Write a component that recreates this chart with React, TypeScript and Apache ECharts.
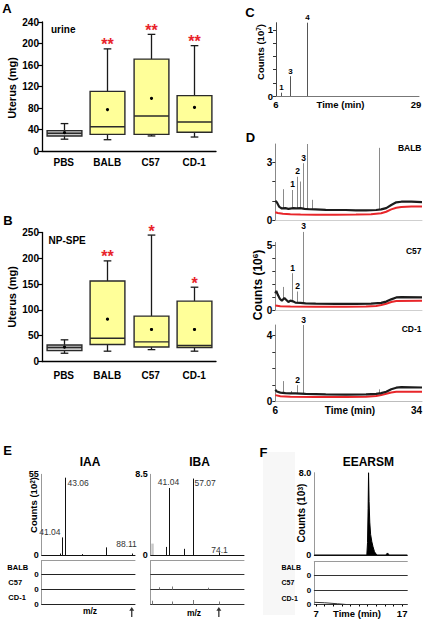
import React, { useEffect, useRef } from 'react';
import * as echarts from 'echarts';

const FONT = "'Liberation Sans', Arial, Helvetica, sans-serif";

// ---------- A / B : box plots ----------
const boxCategories = ['PBS', 'BALB', 'C57', 'CD-1'];
const urineMin = [22, 21, 28, 26];
const urineQ1 = [28, 31, 31, 35];
const urineMedian = [33, 45, 65, 54];
const urineQ3 = [38, 111, 171, 103];
const urineMax = [51, 190, 217, 196];
const urineMean = [34, 77, 98, 81];
const urineStars = ['', '**', '**', '**'];

const npMin = [16, 20, 23, 20];
const npQ1 = [21, 33, 28, 27];
const npMedian = [27, 45, 38, 31];
const npQ3 = [32, 156, 88, 117];
const npMax = [42, 195, 245, 144];
const npMean = [28, 82, 62, 62];
const npStars = ['', '**', '*', '*'];

// ---------- C : standard chromatogram ----------
const cPeakTime = [6.77, 8.35, 11.14];
const cPeakCounts = [0.05, 0.3, 1.11];
const cPeakLabels = ['1', '3', '4'];

// ---------- D : sample chromatograms (10^6 counts) ----------
const dBalbBlack: [number, number][] = [[6, 1.0], [6.3, 0.92], [6.8, 0.68], [7.3, 0.6], [8, 0.62], [8.6, 0.58], [9.6, 0.62], [10.2, 0.6], [11, 0.62], [11.8, 0.58], [12.8, 0.56], [14, 0.55], [16, 0.53], [18, 0.52], [20, 0.52], [22, 0.5], [24, 0.5], [26, 0.52], [27, 0.55], [28, 0.62], [29, 0.78], [30, 0.92], [31, 0.95], [33, 0.95], [35.1, 0.93]];
const dBalbRed: [number, number][] = [[6, 0.4], [6.5, 0.36], [7.5, 0.32], [9, 0.3], [11, 0.28], [14, 0.27], [18, 0.27], [22, 0.28], [25, 0.3], [27, 0.35], [28, 0.43], [29, 0.55], [30, 0.64], [31, 0.68], [33, 0.7], [35.1, 0.7]];
const dBalbPeakTime = [7.6, 9.25, 10.4, 10.9, 11.4, 12.35, 13.2, 26.6];
const dBalbPeakCounts = [1.6, 1.56, 2.25, 2.0, 2.95, 3.95, 1.05, 3.75];
const dBalbPeakLabels = ['', '1', '2', '', '3', '', '', ''];

const dC57Black: [number, number][] = [[6, 1.3], [6.2, 1.5], [6.5, 1.2], [6.9, 0.9], [7.3, 0.75], [7.8, 0.95], [8.2, 0.8], [8.6, 0.65], [9.0, 0.75], [9.5, 0.7], [10, 0.6], [11, 0.58], [12, 0.55], [14, 0.52], [18, 0.5], [22, 0.5], [25, 0.52], [27, 0.58], [28, 0.68], [29, 0.85], [30, 1.0], [31, 1.02], [35.1, 1.0]];
const dC57Red: [number, number][] = [[6, 0.38], [7, 0.32], [9, 0.3], [14, 0.28], [20, 0.28], [24, 0.3], [26, 0.35], [27, 0.42], [28, 0.52], [29, 0.65], [30, 0.72], [35.1, 0.75]];
const dC57PeakTime = [7.6, 9.25, 10.4, 11.4];
const dC57PeakCounts = [1.8, 2.85, 1.45, 6.0];
const dC57PeakLabels = ['', '1', '2', '3'];

const dCd1Black: [number, number][] = [[6, 0.72], [6.3, 0.62], [7, 0.55], [8, 0.52], [9, 0.5], [10, 0.5], [12, 0.47], [16, 0.44], [20, 0.43], [24, 0.44], [26, 0.47], [27, 0.52], [28, 0.6], [29, 0.75], [30, 0.85], [31, 0.88], [35.1, 0.86]];
const dCd1Red: [number, number][] = [[6, 0.4], [7, 0.33], [9, 0.3], [14, 0.28], [20, 0.28], [24, 0.3], [26, 0.34], [27, 0.4], [28, 0.48], [29, 0.56], [30, 0.6], [35.1, 0.6]];
const dCd1PeakTime = [7.6, 9.2, 10.4, 11.4, 26.6];
const dCd1PeakCounts = [1.25, 0.65, 1.0, 4.65, 0.75];
const dCd1PeakLabels = ['', '', '2', '3', ''];

// ---------- E : mass spectra ----------
const iaaMz = [39.9, 41.04, 43.06, 54.7, 70.8, 88.11];
const iaaCounts = [1.0, 12, 52.7, 0.6, 5.2, 1.0];
const iaaLabels = ['', '41.04', '43.06', '', '', '88.11'];
const iaaArrowMz = [88.11];

const ibaBackgroundMz = [29.3];
const ibaBackgroundCounts = [1.2];
const ibaMz = [38.8, 41.04, 51, 57.07, 74.1];
const ibaCounts = [0.85, 7.06, 0.65, 8.05, 0.25];
const ibaLabels = ['', '41.04', '', '57.07', '74.1'];
const ibaArrowMz = [74.1];
const ibaC57NoiseMz = [34, 43, 67];
const ibaC57Noise = [0.15, 0.2, 0.12];
const ibaCd1NoiseMz = [29.3, 43.1, 57.1, 74.1];
const ibaCd1Noise = [0.25, 0.2, 0.3, 0.2];

// ---------- F : EEARSM chromatogram (10^3 counts) ----------
const fTime = [6.8, 12.9, 12.98, 13.05, 13.1, 13.16, 13.24, 13.34, 13.48, 13.62, 13.78, 13.95, 14.15, 15.1, 15.3, 15.5, 17.6];
const fCounts = [0, 0, 1.2, 4.5, 8.0, 5.2, 3.2, 2.0, 1.3, 0.8, 0.35, 0.1, 0, 0, 0.2, 0, 0];
const fCd1Time = [6.8, 8, 9.5, 10.5, 17.6];
const fCd1Counts = [0.15, 0.12, 0.05, 0, 0];

// ---------- label placements (style, not data) ----------
type Place = [string, number, number];
const iaaLabelPlace: Place[] = [['top', 0, -1], ['left', -2, -1], ['right', 2, 1], ['top', 0, -1], ['top', 0, -1], ['top', -6, -5]];
const ibaLabelPlace: Place[] = [['top', 0, -1], ['top', -1, -1], ['top', 0, -1], ['right', 1, 0], ['top', 0, 2]];

const font = (size: number, weight = 'bold') => `${weight} ${size}px ${FONT}`;

function interp(trace: [number, number][], t: number) {
  for (let i = 1; i < trace.length; i++) {
    if (t <= trace[i][0]) {
      const [t0, v0] = trace[i - 1];
      const [t1, v1] = trace[i];
      return v0 + ((t - t0) / (t1 - t0)) * (v1 - v0);
    }
  }
  return trace[trace.length - 1][1];
}

function grid(left: number, top: number, width: number, height: number) {
  return { left, top, width, height, containLabel: false, outerBoundsMode: 'none' };
}

function boxSeries(gi: number, mins: number[], q1s: number[], meds: number[], q3s: number[], maxs: number[], means: number[], stars: string[]) {
  return {
    type: 'custom',
    xAxisIndex: gi,
    yAxisIndex: gi,
    silent: true,
    data: boxCategories.map((_, i) => [i, mins[i], q1s[i], meds[i], q3s[i], maxs[i], means[i]]),
    encode: { x: 0, y: [1, 2, 3, 4, 5, 6] },
    renderItem: (params: any, api: any) => {
      const i = params.dataIndex;
      const c = (v: number) => api.coord([i, v]);
      const pMin = c(api.value(1));
      const pQ1 = c(api.value(2));
      const pMed = c(api.value(3));
      const pQ3 = c(api.value(4));
      const pMax = c(api.value(5));
      const pMean = c(api.value(6));
      const band = api.size([1, 0])[0];
      const w = band * 0.8;
      const cx = Math.round(pMin[0]) + 0.5;
      const cap = w * 0.11;
      const ls = { stroke: '#1a1a1a', lineWidth: 1.3 };
      const children: any[] = [
        { type: 'line', shape: { x1: cx, y1: pMax[1], x2: cx, y2: pQ3[1] }, style: ls },
        { type: 'line', shape: { x1: cx, y1: pQ1[1], x2: cx, y2: pMin[1] }, style: ls },
        { type: 'line', shape: { x1: cx - cap, y1: pMax[1], x2: cx + cap, y2: pMax[1] }, style: ls },
        { type: 'line', shape: { x1: cx - cap, y1: pMin[1], x2: cx + cap, y2: pMin[1] }, style: ls },
        {
          type: 'rect',
          shape: { x: cx - w / 2, y: pQ3[1], width: w, height: pQ1[1] - pQ3[1] },
          style: { fill: i === 0 ? '#c6c6c6' : '#ffff99', stroke: '#2a2a2a', lineWidth: 1.4 },
        },
        { type: 'line', shape: { x1: cx - w / 2, y1: pMed[1], x2: cx + w / 2, y2: pMed[1] }, style: { stroke: '#2a2a2a', lineWidth: 1.4 } },
        { type: 'circle', shape: { cx, cy: pMean[1], r: 1.6 }, style: { fill: '#000' } },
      ];
      if (stars[i]) {
        children.push({
          type: 'text',
          x: cx,
          y: pMax[1] - 4,
          style: { text: stars[i], font: font(16), fill: '#e8232a', align: 'center', verticalAlign: 'middle', textAlign: 'center', textVerticalAlign: 'middle' },
        });
      }
      return { type: 'group', children };
    },
  };
}

function spikeSeries(gi: number, xs: number[], tops: number[], bases: number[], labels: string[], places: Place[] | null, color: string, width: number, labelFont: string, labelColor: string, z = 2) {
  return {
    type: 'custom',
    xAxisIndex: gi,
    yAxisIndex: gi,
    silent: true,
    z,
    data: xs.map((x, i) => [x, bases[i], tops[i]]),
    encode: { x: 0, y: [1, 2] },
    renderItem: (params: any, api: any) => {
      const i = params.dataIndex;
      const p0 = api.coord([api.value(0), api.value(1)]);
      const p1 = api.coord([api.value(0), api.value(2)]);
      const x = Math.round(p0[0]) + 0.5;
      const children: any[] = [{ type: 'line', shape: { x1: x, y1: p0[1], x2: x, y2: p1[1] }, style: { stroke: color, lineWidth: width } }];
      const lab = labels[i];
      if (lab) {
        const pl: Place = places ? places[i] : ['top', 0, -1];
        let align = 'center';
        let vAlign = 'bottom';
        if (pl[0] === 'left') { align = 'right'; vAlign = 'bottom'; }
        if (pl[0] === 'right') { align = 'left'; vAlign = 'top'; }
        children.push({
          type: 'text',
          x: x + pl[1],
          y: p1[1] + pl[2],
          style: { text: lab, font: labelFont, fill: labelColor, align, verticalAlign: vAlign, textAlign: align, textVerticalAlign: vAlign },
        });
      }
      return { type: 'group', children };
    },
  };
}

function lineSeries(gi: number, data: [number, number][], color: string, width: number, z = 2, area = false) {
  const s: any = {
    type: 'line',
    xAxisIndex: gi,
    yAxisIndex: gi,
    data,
    showSymbol: false,
    silent: true,
    z,
    lineStyle: { color, width },
  };
  if (area) s.areaStyle = { color, opacity: 1 };
  return s;
}

function arrowSeries(gi: number, xs: number[]) {
  return {
    type: 'scatter',
    xAxisIndex: gi,
    yAxisIndex: gi,
    clip: false,
    silent: true,
    data: xs.map((x) => [x, 0]),
    symbol: 'path://M5,0 L10,5.5 L6.3,5.5 L6.3,15 L3.7,15 L3.7,5.5 L0,5.5 Z',
    symbolSize: [5, 10],
    symbolOffset: [0, 7.5],
    itemStyle: { color: '#000' },
  };
}

const lbl = (size: number, extra: any = {}) => ({ fontFamily: FONT, fontWeight: 'bold', fontSize: size, color: '#000', ...extra });

function catX(gi: number, margin: number) {
  return {
    type: 'category', gridIndex: gi, data: boxCategories,
    axisLine: { lineStyle: { color: '#000', width: 1.3 } },
    axisTick: { show: false },
    axisLabel: lbl(10, { margin }),
  };
}

function valY(gi: number, max: number, interval: number) {
  return {
    type: 'value', gridIndex: gi, min: 0, max, interval,
    axisLine: { show: true, lineStyle: { color: '#000', width: 1.3 } },
    axisTick: { show: true, inside: false, length: 4, lineStyle: { color: '#000', width: 1.2 } },
    axisLabel: lbl(10, { margin: 3 }),
    splitLine: { show: false },
  };
}

function plainX(gi: number, min: number, max: number, lineColor: string, labels: number[] | null, labelSize = 10, margin = 4, position = 'bottom', ticks = false) {
  return {
    type: 'value', gridIndex: gi, min, max, position,
    axisLine: { show: true, onZero: false, lineStyle: { color: lineColor, width: 1 } },
    axisTick: ticks ? { show: true, interval: 1, length: 2, lineStyle: { color: '#000' }, customValues: Array.from({ length: Math.floor(max) - Math.ceil(min) + 1 }, (_, k) => Math.ceil(min) + k) } : { show: false },
    axisLabel: labels ? lbl(labelSize, { margin, customValues: labels }) : { show: false },
    splitLine: { show: false },
  };
}

function plainY(gi: number, max: number, lineColor: string, labels: number[] | null, ticks: number[] | null, labelSize = 9, formatter?: (v: number) => string) {
  return {
    type: 'value', gridIndex: gi, min: 0, max,
    axisLine: { show: true, lineStyle: { color: lineColor, width: 1 } },
    axisTick: ticks ? { show: true, inside: false, length: 3, customValues: ticks, lineStyle: { color: '#333', width: 1 } } : { show: false },
    axisLabel: labels ? lbl(labelSize, { margin: 3, customValues: labels, formatter }) : { show: false },
    splitLine: { show: false },
  };
}

function text(x: number, y: number, t: string, size: number, align = 'center', weight = 'bold', color = '#000') {
  return { type: 'text', x, y, silent: true, style: { text: t, font: font(size, weight), fill: color, align, verticalAlign: 'middle', textAlign: align, textVerticalAlign: 'middle' } };
}

function vtext(x: number, y: number, main: string, sup: string, size: number, supSize: number) {
  const rich: any = {
    a: { fontFamily: FONT, fontWeight: 'bold', fontSize: size, fill: '#000', verticalAlign: 'bottom' },
    s: { fontFamily: FONT, fontWeight: 'bold', fontSize: supSize, fill: '#000', verticalAlign: 'top' },
  };
  const t = sup ? `{a|${main}}{s|${sup}}{a|)}` : `{a|${main}}`;
  return { type: 'text', x, y, rotation: Math.PI / 2, silent: true, style: { text: t, rich, align: 'center', verticalAlign: 'middle', textAlign: 'center', textVerticalAlign: 'middle' } };
}

function buildOption() {
  const grids = [
    grid(42, 22, 174, 129), // 0 A
    grid(42, 232.5, 174, 129), // 1 B
    grid(276, 22.7, 143, 73.3), // 2 C
    grid(275.3, 144, 146.7, 76), // 3 D BALB
    grid(275.3, 242.4, 146.7, 68.1), // 4 D C57
    grid(275.3, 325, 146.7, 76.7), // 5 D CD-1
    grid(41.7, 474.3, 93.3, 80.7), // 6 IAA
    grid(41.7, 560.5, 93.3, 14), // 7
    grid(41.7, 574.5, 93.3, 15), // 8
    grid(41.7, 589.5, 93.3, 15), // 9
    grid(150.7, 474.3, 93.3, 80.7), // 10 IBA
    grid(150.7, 560.5, 93.3, 14), // 11
    grid(150.7, 574.5, 93.3, 15), // 12
    grid(150.7, 589.5, 93.3, 15), // 13
    grid(314.3, 472.7, 93, 82.3), // 14 F
    grid(314.3, 561.5, 93, 13.5), // 15
    grid(314.3, 575, 93, 15), // 16
    grid(314.3, 590, 93, 14.5), // 17
  ];

  const xAxis: any[] = [
    catX(0, 6),
    catX(1, 9),
    plainX(2, 6, 29.5, '#777', [6, 29], 9.5, 3),
    plainX(3, 6, 35.1, '#cfcfcf', null),
    plainX(4, 6, 35.1, '#cfcfcf', null),
    plainX(5, 6, 35.1, '#bdbdbd', [6, 34], 10, 3.5),
    plainX(6, 27.6, 90.3, '#111', null),
    plainX(7, 27.6, 90.3, '#222', null),
    plainX(8, 27.6, 90.3, '#222', null),
    plainX(9, 27.6, 90.3, '#222', null),
    plainX(10, 28.6, 90.9, '#111', null),
    plainX(11, 28.6, 90.9, '#333', null),
    plainX(12, 28.6, 90.9, '#333', null),
    plainX(13, 28.6, 90.9, '#333', null),
    plainX(14, 6.8, 17.6, '#111', null),
    plainX(15, 6.8, 17.6, '#333', null),
    plainX(16, 6.8, 17.6, '#333', null),
    plainX(17, 6.8, 17.6, '#333', [7, 17], 9.5, 3.5, 'bottom', true),
    // separators on top of the sample strips
    plainX(7, 0, 1, '#9a9a9a', null, 10, 4, 'top'),
    plainX(11, 0, 1, '#9a9a9a', null, 10, 4, 'top'),
    plainX(15, 0, 1, '#9a9a9a', null, 10, 4, 'top'),
  ];

  const yAxis: any[] = [
    valY(0, 240, 40),
    valY(1, 250, 50),
    plainY(2, 1.11, '#444', [0, 1], [0, 0.2, 0.4, 0.6, 0.8, 1], 9.5),
    plainY(3, 3.95, '#888', [0, 3], [0, 1, 2, 3], 10),
    plainY(4, 5.2, '#888', [0, 5], [0, 1, 2, 3, 4, 5], 10),
    plainY(5, 4.65, '#888', [0, 4], [0, 1, 2, 3, 4], 10),
    plainY(6, 55, '#999', [0, 55], null, 9),
    plainY(7, 1, '#999', [0], null, 8),
    plainY(8, 1, '#999', [0], null, 8),
    plainY(9, 1, '#999', [0], null, 8),
    plainY(10, 8.5, '#999', [0, 8.5], null, 9),
    plainY(11, 1, '#999', null, null),
    plainY(12, 1, '#999', null, null),
    plainY(13, 1, '#999', null, null),
    plainY(14, 8, '#999', [0, 8], null, 9, (v: number) => (v === 8 ? '8.0' : String(v))),
    plainY(15, 1, '#999', [0], null, 8),
    plainY(16, 1, '#999', [0], null, 8),
    plainY(17, 1, '#999', [0], null, 8),
  ];

  const zeros = (n: number) => Array.from({ length: n }, () => 0);
  const dLabFont = font(8.5);

  const series: any[] = [
    boxSeries(0, urineMin, urineQ1, urineMedian, urineQ3, urineMax, urineMean, urineStars),
    boxSeries(1, npMin, npQ1, npMedian, npQ3, npMax, npMean, npStars),
    spikeSeries(2, cPeakTime, cPeakCounts, zeros(cPeakTime.length), cPeakLabels, null, '#555', 1, font(8), '#000'),

    lineSeries(3, dBalbRed, '#e8262a', 2, 2),
    spikeSeries(3, dBalbPeakTime, dBalbPeakCounts, dBalbPeakTime.map((t) => interp(dBalbBlack, t)), dBalbPeakLabels, null, '#8a8a8a', 1, dLabFont, '#000', 1),
    lineSeries(3, dBalbBlack, '#1c1c1c', 2.2, 3),

    lineSeries(4, dC57Red, '#e8262a', 2, 2),
    spikeSeries(4, dC57PeakTime, dC57PeakCounts, dC57PeakTime.map((t) => interp(dC57Black, t)), dC57PeakLabels, null, '#8a8a8a', 1, dLabFont, '#000', 1),
    lineSeries(4, dC57Black, '#1c1c1c', 2.2, 3),

    lineSeries(5, dCd1Red, '#e8262a', 2, 2),
    spikeSeries(5, dCd1PeakTime, dCd1PeakCounts, dCd1PeakTime.map((t) => interp(dCd1Black, t)), dCd1PeakLabels, null, '#8a8a8a', 1, dLabFont, '#000', 1),
    lineSeries(5, dCd1Black, '#1c1c1c', 2.2, 3),

    spikeSeries(6, iaaMz, iaaCounts, zeros(iaaMz.length), iaaLabels, iaaLabelPlace, '#111', 1, font(8.5, 'normal'), '#333'),
    arrowSeries(9, iaaArrowMz),

    spikeSeries(10, ibaBackgroundMz, ibaBackgroundCounts, zeros(ibaBackgroundMz.length), [''], null, '#c8c8c8', 2.5, font(8), '#333'),
    spikeSeries(10, ibaMz, ibaCounts, zeros(ibaMz.length), ibaLabels, ibaLabelPlace, '#111', 1, font(8.5, 'normal'), '#333'),
    spikeSeries(12, ibaC57NoiseMz, ibaC57Noise, zeros(ibaC57NoiseMz.length), [], null, '#777', 1, font(8), '#333'),
    spikeSeries(13, ibaCd1NoiseMz, ibaCd1Noise, zeros(ibaCd1NoiseMz.length), [], null, '#777', 1, font(8), '#333'),
    arrowSeries(13, ibaArrowMz),

    lineSeries(14, fTime.map((t, i) => [t, fCounts[i]] as [number, number]), '#000', 1, 2, true),
    lineSeries(17, fCd1Time.map((t, i) => [t, fCd1Counts[i]] as [number, number]), '#333', 1, 2),
  ];

  const graphic: any[] = [
    { type: 'rect', silent: true, z: -10, shape: { x: 263, y: 452, width: 32, height: 163 }, style: { fill: '#f7f7f7' } },
    text(7, 8, 'A', 13, 'center'),
    text(8, 220, 'B', 13, 'center'),
    text(250, 12.5, 'C', 13, 'center'),
    text(250.5, 137.5, 'D', 13, 'center'),
    text(7.5, 450, 'E', 13, 'center'),
    text(263.5, 452.5, 'F', 13, 'center'),
    text(51, 29.5, 'urine', 10, 'left'),
    text(48.5, 240, 'NP-SPE', 10, 'left'),
    vtext(12, 88, 'Uterus (mg)', '', 11, 8),
    vtext(12, 297, 'Uterus (mg)', '', 11, 8),
    vtext(260, 52, 'Counts (10', '7', 9.5, 6.5),
    vtext(257.5, 285, 'Counts (10', '6', 12, 8),
    vtext(33.5, 505, 'Counts (10', '2', 9.5, 6.5),
    vtext(301.5, 513, 'Counts (10', '3', 10, 7),
    text(340.5, 104, 'Time (min)', 9.5),
    text(350, 410, 'Time (min)', 10),
    text(421.5, 148.3, 'BALB', 8.5, 'right'),
    text(421.5, 250.7, 'C57', 8.5, 'right'),
    text(421.5, 329.3, 'CD-1', 8.5, 'right'),
    text(90, 461.7, 'IAA', 12),
    text(199.5, 461.7, 'IBA', 12),
    text(368.3, 461.7, 'EEARSM', 12),
    text(7.3, 567.5, 'BALB', 7.5, 'left'),
    text(8.3, 582.3, 'C57', 7.5, 'left'),
    text(8.3, 597.3, 'CD-1', 7.5, 'left'),
    text(281.5, 567.8, 'BALB', 7, 'left'),
    text(281.5, 582.8, 'C57', 7, 'left'),
    text(281.5, 598.3, 'CD-1', 7, 'left'),
    text(90, 611, 'm/z', 8.5),
    text(194, 612.5, 'm/z', 8.5),
    text(357, 613.3, 'Time (min)', 9.5),
  ];

  return {
    animation: false,
    backgroundColor: '#ffffff',
    textStyle: { fontFamily: FONT },
    grid: grids,
    xAxis,
    yAxis,
    series,
    graphic,
  };
}

export default function App() {
  const ref = useRef<HTMLDivElement>(null);
  useEffect(() => {
    const chart = echarts.init(ref.current as HTMLDivElement, null, { renderer: 'svg' });
    chart.setOption(buildOption() as any);
    return () => chart.dispose();
  }, []);
  return (
    <div
      ref={ref}
      style={{ position: 'absolute', left: 0, top: 0, width: 425, height: 622, background: '#fff' }}
    />
  );
}
